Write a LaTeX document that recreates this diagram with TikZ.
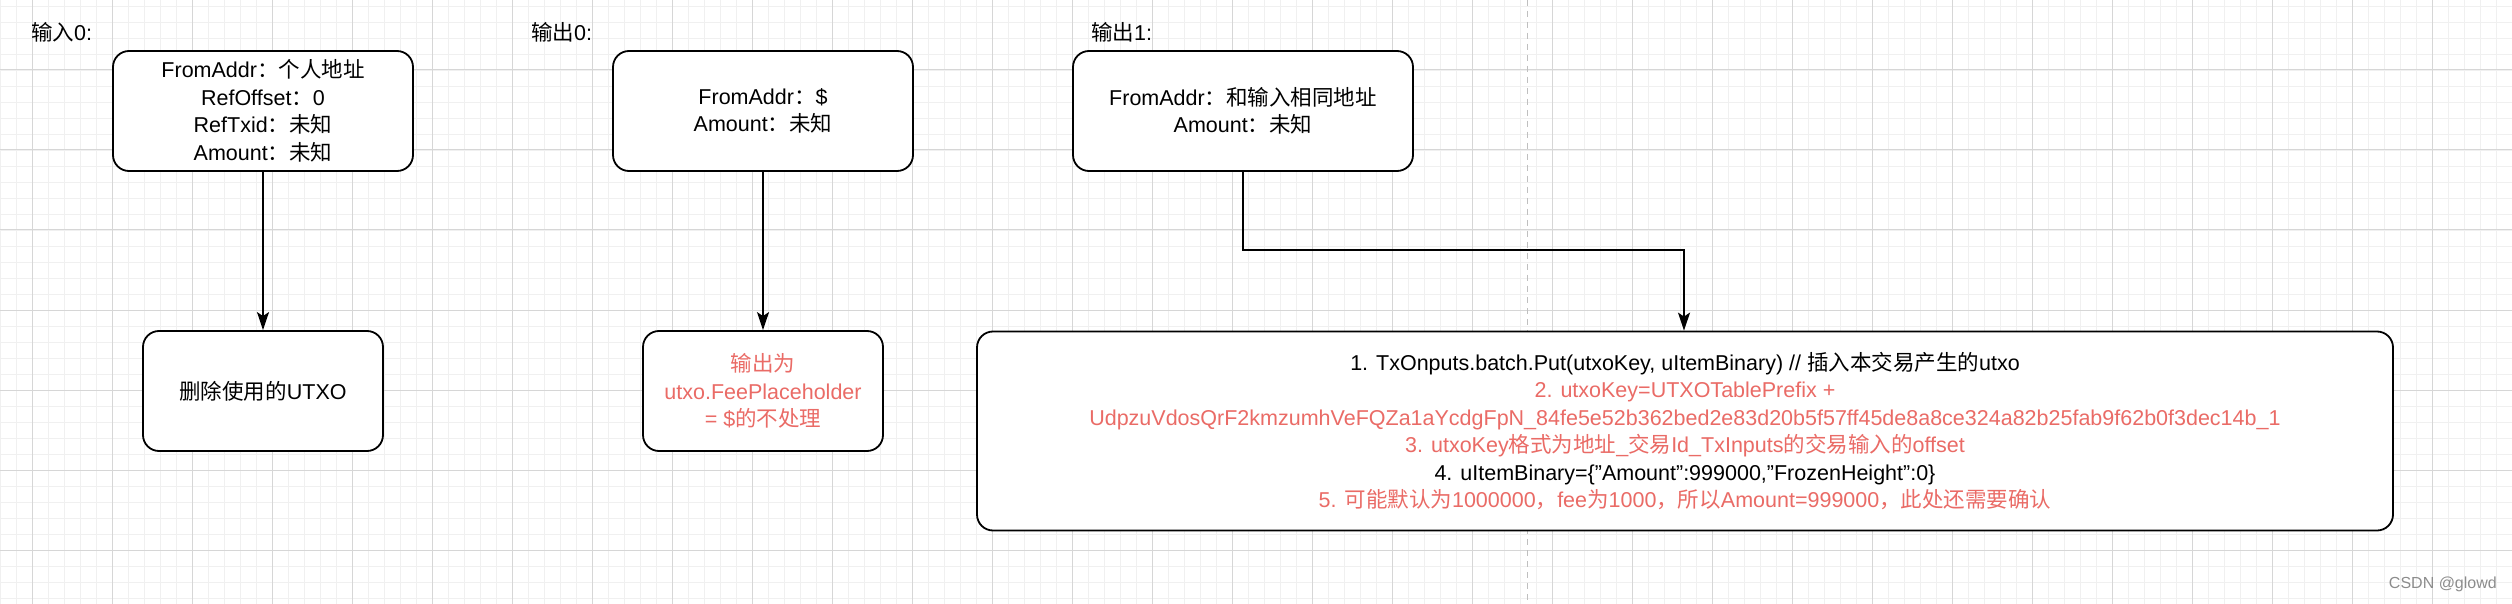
\documentclass[tikz,border=0pt]{standalone}
\usepackage{fontspec}
\setmainfont{Liberation Sans}
\newfontfamily\cjk{Noto Sans CJK SC}
\newcommand{\zh}[1]{{\cjk #1}}
\usetikzlibrary{arrows.meta}
\definecolor{myred}{HTML}{EA6B66}
\begin{document}
\begin{tikzpicture}[x=1pt,y=-1pt,
  box/.style={draw=black,line width=1.8pt,rounded corners=16pt,fill=white,align=center,inner sep=0pt,
    font=\fontsize{21.5}{27.5}\selectfont},
  lbl/.style={anchor=north west,inner sep=0pt,font=\fontsize{21.5}{26}\selectfont},
  arr/.style={line width=1.8pt,-{Stealth[length=18pt,width=12pt,inset=4pt]}}]
\useasboundingbox (0,0) rectangle (2512,604);
\fill[white] (0,0) rectangle (2512,604);
\foreach \x in {0,16,...,2512} \draw[black!6,line width=0.8pt] (\x,0) -- (\x,604);
\foreach \y in {6,22,...,604} \draw[black!6,line width=0.8pt] (0,\y) -- (2512,\y);
\foreach \x in {32,112,...,2512} \draw[black!16,line width=1pt] (\x,0) -- (\x,604);
\foreach \y in {70,150,...,604} \draw[black!16,line width=1pt] (0,\y) -- (2512,\y);
\draw[black!25,line width=1pt,dash pattern=on 6pt off 5pt] (1527,0) -- (1527,604);

\node[lbl] (l1) at (31,22) {\zh{输入}0:};
\node[lbl] (l2) at (531,22) {\zh{输出}0:};
\node[lbl] (l3) at (1091,22) {\zh{输出}1:};

\node[box,minimum width=300pt,minimum height=120pt] (in0) at (263,111)
 {FromAddr\zh{：个人地址}\\RefOffset\zh{：}0\\RefTxid\zh{：未知}\\Amount\zh{：未知}};
\node[box,minimum width=300pt,minimum height=120pt] (out0) at (763,111)
 {FromAddr\zh{：}\$\\Amount\zh{：未知}};
\node[box,minimum width=340pt,minimum height=120pt] (out1) at (1243,111)
 {FromAddr\zh{：和输入相同地址}\\Amount\zh{：未知}};
\node[box,minimum width=240pt,minimum height=120pt] (del) at (263,391)
 {\zh{删除使用的}UTXO};
\node[box,minimum width=240pt,minimum height=120pt,text=myred] (fee) at (763,391)
 {\zh{输出为}\\utxo.FeePlaceholder\\= \$\zh{的不处理}};
\node[box,minimum width=1416pt,minimum height=199pt] (put) at (1685,431)
 {1. TxOnputs.batch.Put(utxoKey, uItemBinary) // \zh{插入本交易产生的}utxo\\
  \textcolor{myred}{2. utxoKey=UTXOTablePrefix +}\\
  \textcolor{myred}{UdpzuVdosQrF2kmzumhVeFQZa1aYcdgFpN\_84fe5e52b362bed2e83d20b5f57ff45de8a8ce324a82b25fab9f62b0f3dec14b\_1}\\
  \textcolor{myred}{3. utxoKey\zh{格式为地址}\_\zh{交易}Id\_TxInputs\zh{的交易输入的}offset}\\
  4. uItemBinary=\{"Amount":999000,"FrozenHeight":0\}\\
  \textcolor{myred}{5. \zh{可能默认为}1000000\zh{，}fee\zh{为}1000\zh{，所以}Amount=999000\zh{，此处还需要确认}}};

\draw[arr] (in0.south) -- (del.north);
\draw[arr] (out0.south) -- (fee.north);
\coordinate (c1) at (1243,250);
\coordinate (c2) at (1684,250);
\draw[arr] (out1.south) -- (c1) -- (c2) -- (c2 |- put.north);

\node[anchor=south east,inner sep=0pt,text=black!45,font=\fontsize{16}{18}\selectfont] (wm) at (2497,592) {CSDN @glowd};
\end{tikzpicture}
\end{document}
